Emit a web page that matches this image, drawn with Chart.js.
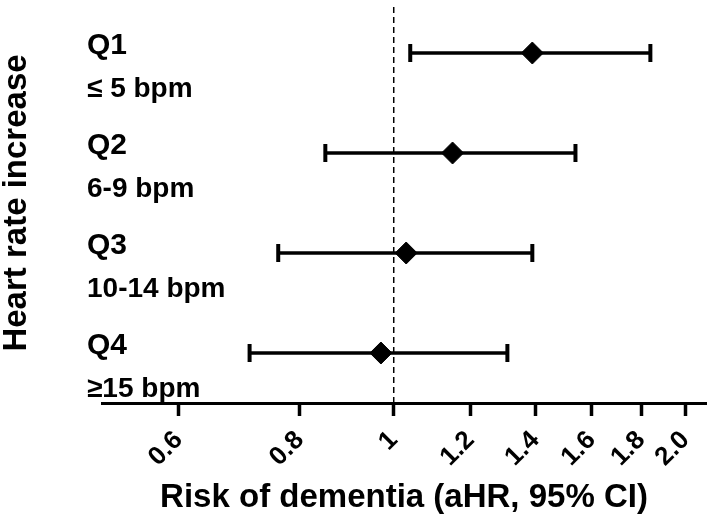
<!DOCTYPE html>
<html>
<head>
<meta charset="utf-8">
<script src="https://cdn.jsdelivr.net/npm/chart.js@4.4.1/dist/chart.umd.min.js"></script>
<style>
  html, body { margin: 0; padding: 0; background: #fff; }
  #wrap { width: 709px; height: 525px; }
</style>
</head>
<body>
<div id="wrap"><canvas id="myChart"></canvas></div>
<script>
  // Data
  const groups = ['Q1', 'Q2', 'Q3', 'Q4']
  const ranges = ['\u2264 5 bpm', '6-9 bpm', '10-14 bpm', '\u226515 bpm']
  const hr = [1.39, 1.15, 1.03, 0.97]
  const lower = [1.04, 0.85, 0.76, 0.71]
  const upper = [1.84, 1.54, 1.39, 1.31]
  const rowY = [3.5, 2.5, 1.5, 0.5]
  const tickValues = [0.6, 0.8, 1, 1.2, 1.4, 1.6, 1.8, 2.0]
  const tickLabels = ['0.6', '0.8', '1', '1.2', '1.4', '1.6', '1.8', '2.0']

  const font = "'Liberation Sans', Arial, sans-serif"

  const ciSets = groups.map((g, i) => ({
    type: 'line',
    data: [{ x: lower[i], y: rowY[i] }, { x: upper[i], y: rowY[i] }],
    borderColor: '#000',
    borderWidth: 3.5,
    pointStyle: 'line',
    rotation: 90,
    pointRadius: 9,
    pointBorderWidth: 4,
    pointBorderColor: '#000',
    pointHoverRadius: 9
  }))

  // group labels on the left
  const rowLabels = {
    id: 'rowLabels',
    afterDraw (chart) {
      const { ctx, scales: { y } } = chart
      ctx.save()
      ctx.fillStyle = '#000'
      ctx.textAlign = 'left'
      ctx.textBaseline = 'middle'
      groups.forEach((g, i) => {
        const py = y.getPixelForValue(rowY[i])
        ctx.font = 'bold 30px ' + font
        ctx.fillText(g, 87, py - 7)
        ctx.font = 'bold 28px ' + font
        ctx.fillText(ranges[i], 87, py + 36)
      })
      ctx.restore()
    }
  }

  const ctx = document.getElementById('myChart')
  // eslint-disable-next-line no-unused-vars
  const myChart = new Chart(ctx, {
    type: 'scatter',
    data: {
      datasets: [{
        type: 'line',
        data: [{ x: 1, y: 0 }, { x: 1, y: 4 }],
        borderColor: '#000',
        borderWidth: 1.5,
        borderDash: [6, 4],
        pointRadius: 0
      },
      ...ciSets,
      {
        type: 'scatter',
        data: hr.map((v, i) => ({ x: v, y: rowY[i] })),
        pointStyle: 'rectRot',
        pointRadius: 11,
        pointHoverRadius: 11,
        backgroundColor: '#000',
        borderColor: '#000'
      }]
    },
    options: {
      responsive: true,
      maintainAspectRatio: false,
      animation: false,
      layout: { autoPadding: false, padding: { top: 3, right: 3, left: 0, bottom: 0 } },
      scales: {
        x: {
          type: 'logarithmic',
          min: 0.5,
          max: 2.1,
          afterBuildTicks (scale) {
            scale.ticks = tickValues.map(v => ({ value: v }))
          },
          afterFit (scale) {
            scale.height = 122
            scale.paddingLeft = 0
            scale.paddingRight = 0
          },
          ticks: {
            color: '#000',
            font: { family: font, size: 26, weight: 'bold' },
            minRotation: 45,
            maxRotation: 45,
            padding: 9,
            autoSkip: false,
            callback: (v, i) => tickLabels[i]
          },
          grid: {
            drawOnChartArea: false,
            drawTicks: true,
            tickLength: 13,
            tickWidth: 3.5,
            tickColor: '#000'
          },
          border: { display: true, color: '#000', width: 3 },
          title: {
            display: true,
            text: 'Risk of dementia (aHR, 95% CI)',
            color: '#000',
            font: { family: font, size: 33, weight: 'bold', lineHeight: 1 },
            padding: { top: 4, bottom: 11 }
          }
        },
        y: {
          type: 'linear',
          min: 0,
          max: 4,
          afterFit (scale) {
            scale.width = 102
            scale.paddingTop = 0
            scale.paddingBottom = 0
          },
          ticks: { display: false },
          grid: { display: false },
          border: { display: false },
          title: {
            display: true,
            text: 'Heart rate increase',
            color: '#000',
            font: { family: font, size: 33, weight: 'bold', lineHeight: 1 },
            padding: { top: 0, bottom: 0 }
          }
        }
      },
      plugins: {
        legend: { display: false },
        tooltip: { enabled: false }
      }
    },
    plugins: [rowLabels]
  })
</script>
</body>
</html>
